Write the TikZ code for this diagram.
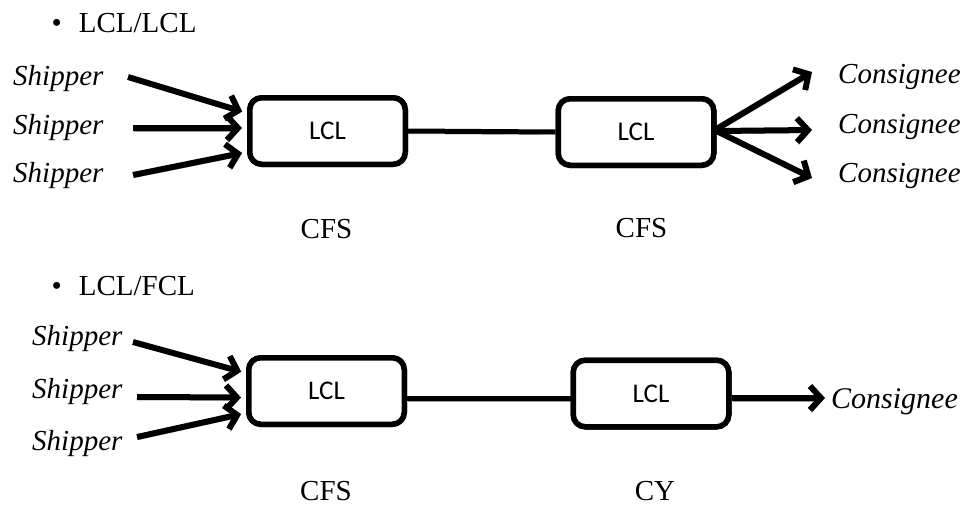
\documentclass[tikz,border=0pt]{standalone}
\usepackage{fontspec}
\setmainfont{Liberation Serif}
\newfontfamily\boxfont{Carlito}
\usetikzlibrary{arrows.meta}

\tikzset{
  serif/.style={inner sep=0pt, font=\fontsize{29}{34}\selectfont},
  party/.style={serif, font=\fontsize{29}{34}\selectfont\itshape, anchor=base west},
  site/.style={serif, anchor=base},
  heading/.style={serif, anchor=base west},
  yard/.style={draw=black, line width=5.5pt, rounded corners=12pt, fill=white,
    minimum width=155.5pt, minimum height=66.5pt, inner sep=0pt,
    font=\boxfont\fontsize{27}{31}\selectfont},
  shade/.style={preaction={draw=black!40, transform canvas={shift={(1.2pt,-2.8pt)}}}},
  flow/.style={shade, draw=black, line width=6pt,
    -{Straight Barb[length=11pt, width=24pt]}},
  link/.style={shade, draw=black, line width=5pt}
}

\begin{document}
\begin{tikzpicture}[x=1pt, y=-1pt]
\useasboundingbox (0,0) rectangle (965,506);

% ---------- LCL/LCL ----------
\node[heading] (h1) at (51.5,32) {\textbullet\hspace{17pt}LCL/LCL};

\node[party] (s1) at (13,85)  {Shipper};
\node[party] (s2) at (13,134) {Shipper};
\node[party] (s3) at (13,182) {Shipper};

\coordinate (p1) at (128,77);
\coordinate (p2) at (133,128);
\coordinate (p3) at (133,175);
\coordinate (q1) at (812,72);
\coordinate (q2) at (812,130);
\coordinate (q3) at (812,178);

\node[yard] (b1) at (327.5,131) {LCL};
\node[yard] (b2) at (636,132)   {LCL};

\draw[link] (b1.east) -- (b2.west);
\draw[flow, shorten >=5pt] (p1) -- ([yshift=18pt]b1.west);
\draw[flow, shorten >=5pt] (p2) -- ([yshift=3pt]b1.west);
\draw[flow, shorten >=5pt] (p3) -- ([yshift=-21pt]b1.west);
\draw[flow] ([yshift=3pt]b2.east) -- (q1);
\draw[flow] ([yshift=1pt]b2.east) -- (q2);
\draw[flow] ([yshift=1pt]b2.east) -- (q3);

% boxes redrawn on top so the connectors meet their borders cleanly
\node[yard] at (b1) {LCL};
\node[yard] at (b2) {LCL};

\node[party] (c1) at (838,83)  {Consignee};
\node[party] (c2) at (838,133) {Consignee};
\node[party] (c3) at (838,182) {Consignee};

\node[site] (f1) at (326.5,238) {CFS};
\node[site] (f2) at (641.5,237) {CFS};

% ---------- LCL/FCL ----------
\node[heading] (h2) at (51.5,295) {\textbullet\hspace{17pt}LCL/FCL};

\node[party] (s4) at (32,345) {Shipper};
\node[party] (s5) at (32,398) {Shipper};
\node[party] (s6) at (32,450) {Shipper};

\coordinate (p4) at (133,342);
\coordinate (p5) at (137,397);
\coordinate (p6) at (137,437);
\coordinate (q4) at (825,398);

\node[yard] (b3) at (326.5,391) {LCL};
\node[yard] (b4) at (651,393.5) {LCL};

\draw[link] ([yshift=-7pt]b3.east) -- ([yshift=-4.5pt]b4.west);
\draw[flow, shorten >=5pt] (p4) -- ([yshift=18pt]b3.west);
\draw[flow, shorten >=5pt] (p5) -- ([yshift=-6.5pt]b3.west);
\draw[flow, shorten >=5pt] (p6) -- ([yshift=-22pt]b3.west);
\draw[flow] ([yshift=-4.5pt]b4.east) -- (q4);

\node[yard] at (b3) {LCL};
\node[yard] at (b4) {LCL};

\node[party, font=\fontsize{30}{34}\selectfont\itshape] (c4) at (831,408) {Consignee};

\node[site] (f3) at (326,500.5) {CFS};
\node[site] (f4) at (655,500.5) {CY};
\end{tikzpicture}
\end{document}
